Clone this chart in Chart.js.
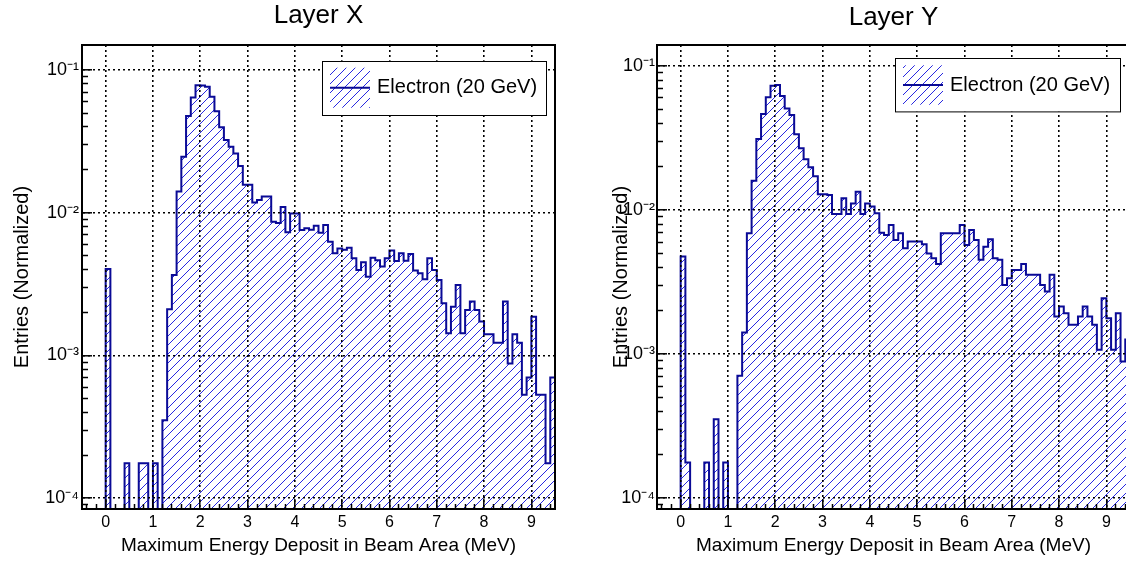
<!DOCTYPE html>
<html>
<head>
<meta charset="utf-8">
<title>Maximum energy deposit, Layer X / Layer Y</title>
<script src="https://cdn.jsdelivr.net/npm/chart.js@4.4.1/dist/chart.umd.min.js"></script>
<style>
  html, body { margin: 0; padding: 0; background: #fff; overflow: hidden; }
  body { width: 1126px; height: 562px; position: relative; }
  canvas { position: absolute; top: 0; }
  #layerXChart { left: 0; }
  #layerYChart { left: 575px; }
</style>
</head>
<body>
<canvas id="layerXChart" width="580" height="562"></canvas>
<canvas id="layerYChart" width="580" height="562"></canvas>
<script>
// binning: 100 bins of 0.1 MeV from -0.5 to 9.5
var binLow = -0.5;
var binWidth = 0.1;
var xTickLabels = [0, 1, 2, 3, 4, 5, 6, 7, 8, 9];
var yTickValues = [1e-4, 1e-3, 1e-2, 1e-1];
var seriesLabel = 'Electron (20 GeV)';
var xTitle = 'Maximum Energy Deposit in Beam Area (MeV)';
var yTitle = 'Entries (Normalized)';

// normalized entries, one row per 1 MeV (starting at -0.5)
var layerX = [
    0, 0, 0, 0, 0, 4.04e-3, 0, 0, 0, 1.76e-4,
    0, 0, 1.76e-4, 1.76e-4, 0, 1.76e-4, 0, 3.52e-4, 2.11e-3, 3.66e-3,
    1.41e-2, 2.47e-2, 4.77e-2, 6.44e-2, 7.85e-2, 7.8e-2, 7.64e-2, 6.5e-2, 5.16e-2, 3.97e-2,
    3.24e-2, 2.9e-2, 2.6e-2, 2.13e-2, 1.57e-2, 1.57e-2, 1.18e-2, 1.23e-2, 1.3e-2, 1.3e-2,
    8.67e-3, 8.5e-3, 1.1e-2, 7.3e-3, 9.9e-3, 9.9e-3, 7.58e-3, 7.8e-3, 7.6e-3, 8.1e-3,
    7.26e-3, 8.2e-3, 6.28e-3, 5.2e-3, 5.63e-3, 5.5e-3, 5.7e-3, 4.8e-3, 3.98e-3, 4.5e-3,
    3.57e-3, 4.85e-3, 4.65e-3, 4.2e-3, 4.8e-3, 5.45e-3, 4.6e-3, 5.2e-3, 4.62e-3, 5.15e-3,
    3.94e-3, 3.77e-3, 3.42e-3, 4.8e-3, 3.98e-3, 3.38e-3, 2.32e-3, 1.43e-3, 2.2e-3, 3.12e-3,
    1.43e-3, 2.08e-3, 2.39e-3, 2.08e-3, 1.73e-3, 1.41e-3, 1.41e-3, 1.23e-3, 1.23e-3, 2.39e-3,
    8.8e-4, 1.41e-3, 1.23e-3, 5.3e-4, 7.0e-4, 1.87e-3, 5.3e-4, 5.3e-4, 1.76e-4, 7.0e-4
];

var layerY = [
    0, 0, 0, 0, 0, 4.75e-3, 1.77e-4, 0, 0, 0,
    1.77e-4, 0, 3.53e-4, 0, 1.77e-4, 0, 0, 7.06e-4, 1.41e-3, 6.9e-3,
    1.6e-2, 3.11e-2, 4.65e-2, 6.06e-2, 7.3e-2, 7.4e-2, 6.19e-2, 5.08e-2, 4.57e-2, 3.36e-2,
    2.69e-2, 2.25e-2, 1.98e-2, 1.72e-2, 1.29e-2, 1.29e-2, 1.27e-2, 9.4e-3, 9.4e-3, 1.21e-2,
    9.4e-3, 1.11e-2, 1.34e-2, 9.4e-3, 1.11e-2, 1.06e-2, 9.5e-3, 6.96e-3, 6.71e-3, 7.88e-3,
    6.2e-3, 6.9e-3, 5.43e-3, 6.04e-3, 6.04e-3, 6.04e-3, 5.8e-3, 5.0e-3, 4.63e-3, 4.22e-3,
    6.9e-3, 6.9e-3, 6.9e-3, 6.9e-3, 7.88e-3, 5.73e-3, 7.28e-3, 6.2e-3, 4.51e-3, 5.57e-3,
    6.27e-3, 4.63e-3, 4.51e-3, 3.02e-3, 3.36e-3, 3.84e-3, 3.84e-3, 4.22e-3, 3.55e-3, 3.55e-3,
    3.55e-3, 3.02e-3, 2.72e-3, 3.55e-3, 1.82e-3, 2.14e-3, 1.92e-3, 1.6e-3, 1.6e-3, 1.82e-3,
    2.14e-3, 1.82e-3, 1.6e-3, 1.07e-3, 2.44e-3, 1.77e-3, 1.07e-3, 1.92e-3, 8.87e-4, 1.26e-3
];

var FONT = '"Liberation Sans", Arial, Helvetica, sans-serif';
var lineColor = 'rgb(10, 10, 150)';
var hatchColor = 'rgb(40, 40, 225)';
var supChars = { '-': '\u207B', '0': '\u2070', '1': '\u00B9', '2': '\u00B2', '3': '\u00B3',
                 '4': '\u2074', '5': '\u2075', '6': '\u2076', '7': '\u2077', '8': '\u2078', '9': '\u2079' };

function makeHatch(step) {
    var c = document.createElement('canvas');
    c.width = step;
    c.height = step;
    var g = c.getContext('2d');
    g.strokeStyle = hatchColor;
    g.lineWidth = 1;
    g.beginPath();
    g.moveTo(-1, step + 1); g.lineTo(step + 1, -1);
    g.moveTo(-2, 2); g.lineTo(2, -2);
    g.moveTo(step - 2, step + 2); g.lineTo(step + 2, step - 2);
    g.stroke();
    return g.createPattern(c, 'repeat');
}
var hatch = makeHatch(9);

// points at the left edge of each bin plus the closing right edge;
// empty bins are pushed far below the axis so the step drops out of the frame
function histPoints(values) {
    var pts = values.map(function (v, i) {
        return { x: binLow + i * binWidth, y: v > 0 ? v : 1e-7 };
    });
    pts.push({ x: binLow + values.length * binWidth, y: pts[pts.length - 1].y });
    return pts;
}

function logMinorTicks(min, max) {
    var out = [];
    for (var k = -5; k <= 0; k++) {
        for (var m = 2; m <= 9; m++) {
            var v = m * Math.pow(10, k);
            if (v > min && v < max) out.push({ value: v });
        }
    }
    return out;
}

function linMinorTicks() {
    var out = [];
    for (var i = -2; i <= 47; i++) {
        if (i % 5 !== 0) out.push({ value: i * 0.2 });
    }
    return out;
}

// closed frame round the plot area
var frame = {
    id: 'frame',
    afterDatasetsDraw: function (chart) {
        var a = chart.chartArea;
        var ctx = chart.ctx;
        ctx.save();
        ctx.strokeStyle = '#000';
        ctx.lineWidth = 2;
        ctx.strokeRect(a.left, a.top, a.right - a.left, a.bottom - a.top);
        ctx.restore();
    }
};

// ROOT-style legend box drawn inside the frame
var boxLegend = {
    id: 'boxLegend',
    afterDraw: function (chart, args, o) {
        var ctx = chart.ctx;
        var area = chart.chartArea;
        var x = area.right - o.right - o.width;
        var y = area.top + o.top;
        var mid = y + o.height / 2;
        ctx.save();
        ctx.fillStyle = '#fff';
        ctx.fillRect(x, y, o.width, o.height);
        ctx.strokeStyle = '#000';
        ctx.lineWidth = 1;
        ctx.strokeRect(Math.round(x) + 0.5, Math.round(y) + 0.5, o.width, o.height);
        ctx.fillStyle = hatch;
        ctx.fillRect(x + 8, y + 7, 40, o.height - 14);
        ctx.strokeStyle = lineColor;
        ctx.lineWidth = 2;
        ctx.beginPath();
        ctx.moveTo(x + 8, mid);
        ctx.lineTo(x + 48, mid);
        ctx.stroke();
        ctx.fillStyle = '#000';
        ctx.font = '20px ' + FONT;
        ctx.textBaseline = 'middle';
        ctx.textAlign = 'left';
        ctx.fillText(chart.data.datasets[0].label, x + 55, mid);
        ctx.restore();
    }
};

function buildChart(canvasId, title, values, cfg) {
    var yMin = 8.4e-5;
    var ctx = document.getElementById(canvasId).getContext('2d');
    return new Chart(ctx, {
        type: 'line',
        data: {
            datasets: [{
                label: seriesLabel,
                data: histPoints(values),
                stepped: 'before',
                borderColor: lineColor,
                borderWidth: 2,
                borderJoinStyle: 'miter',
                backgroundColor: hatch,
                fill: 'start',
                pointRadius: 0,
                pointHoverRadius: 0
            }]
        },
        plugins: [frame, boxLegend],
        options: {
            responsive: false,
            animation: false,
            events: [],
            layout: { autoPadding: false, padding: { left: 0, right: 25, top: 0, bottom: 0 } },
            plugins: {
                legend: { display: false },
                tooltip: { enabled: false },
                title: {
                    display: true,
                    text: title,
                    color: '#000',
                    fullSize: false,
                    font: { size: 26, family: FONT, weight: 'normal', lineHeight: 1.2 },
                    padding: { top: cfg.titleTop, bottom: 13.8 - cfg.titleTop }
                },
                boxLegend: cfg.legend
            },
            scales: {
                x: {
                    type: 'linear',
                    position: 'bottom',
                    min: -0.5,
                    max: 9.5,
                    weight: 1,
                    afterBuildTicks: function (s) {
                        s.ticks = xTickLabels.map(function (v) { return { value: v }; });
                    },
                    afterFit: function (s) { s.height = 53; },
                    ticks: {
                        autoSkip: false,
                        maxRotation: 0,
                        padding: 14,
                        color: '#000',
                        font: { size: 16, family: FONT },
                        callback: function (v) { return String(v); }
                    },
                    grid: { color: '#000', lineWidth: 1.6, tickLength: -10, tickColor: '#000', tickWidth: 1.5, z: 1 },
                    border: { display: true, color: '#000', width: 2, dash: [2, 3], z: 2 },
                    title: {
                        display: true,
                        text: xTitle,
                        color: '#000',
                        font: { size: 19, family: FONT },
                        padding: { top: 0, bottom: 4.6 }
                    }
                },
                xMinor: {
                    type: 'linear',
                    position: 'bottom',
                    min: -0.5,
                    max: 9.5,
                    weight: 0,
                    afterBuildTicks: function (s) { s.ticks = linMinorTicks(); },
                    afterFit: function (s) { s.height = 0; },
                    ticks: { display: false },
                    grid: { drawOnChartArea: false, tickLength: -5, tickColor: '#000', tickWidth: 1.5, z: 1 },
                    border: { display: false }
                },
                y: {
                    type: 'logarithmic',
                    position: 'left',
                    min: yMin,
                    max: cfg.yMax,
                    weight: 1,
                    afterBuildTicks: function (s) {
                        s.ticks = yTickValues.map(function (v) { return { value: v }; });
                    },
                    afterFit: function (s) { s.width = 82; },
                    ticks: {
                        autoSkip: false,
                        padding: cfg.yTickPad,
                        color: '#000',
                        font: { size: 18, family: FONT },
                        callback: function (v) {
                            var exp = String(Math.round(Math.log10(v)));
                            return '10' + exp.split('').map(function (c) { return supChars[c]; }).join('');
                        }
                    },
                    grid: { color: '#000', lineWidth: 1.6, tickLength: -10, tickColor: '#000', tickWidth: 1.5, z: 1 },
                    border: { display: true, color: '#000', width: 2, dash: [2, 3], z: 2 },
                    title: {
                        display: true,
                        text: yTitle,
                        color: '#000',
                        font: { size: 20, family: FONT },
                        padding: { top: cfg.yTitlePad, bottom: 0 }
                    }
                },
                yMinor: {
                    type: 'logarithmic',
                    position: 'left',
                    min: yMin,
                    max: cfg.yMax,
                    weight: 0,
                    afterBuildTicks: function (s) { s.ticks = logMinorTicks(yMin, cfg.yMax); },
                    afterFit: function (s) { s.width = 0; },
                    ticks: { display: false },
                    grid: { drawOnChartArea: false, tickLength: -6, tickColor: '#000', tickWidth: 1.5, z: 1 },
                    border: { display: false }
                }
            }
        }
    });
}

var layerXChart = buildChart('layerXChart', 'Layer X', layerX, {
    yMax: 0.15,
    titleTop: 0,
    yTickPad: 13,
    yTitlePad: 10,
    legend: { right: 9, top: 15.7, width: 224, height: 54 }
});

var layerYChart = buildChart('layerYChart', 'Layer Y', layerY, {
    yMax: 0.14,
    titleTop: 2.5,
    yTickPad: 12,
    yTitlePad: 34,
    legend: { right: 10, top: 13.3, width: 225, height: 53.4 }
});
</script>
</body>
</html>
